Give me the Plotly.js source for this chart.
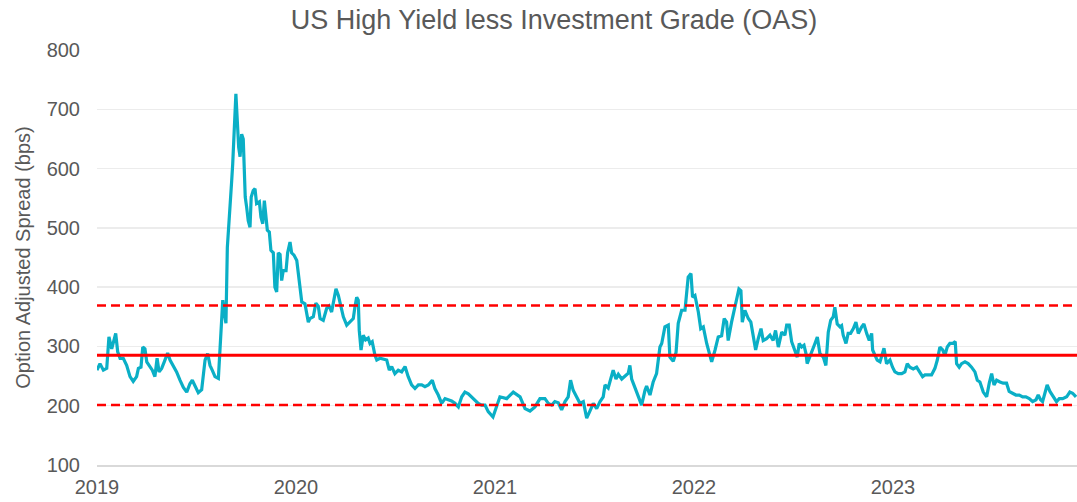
<!DOCTYPE html>
<html>
<head>
<meta charset="utf-8">
<script src="https://cdn.plot.ly/plotly-3.0.1.min.js"></script>
<style>html,body{margin:0;padding:0;background:#fff;}#chart{width:1077px;height:502px;}</style>
</head>
<body>
<div id="chart"></div>
<script>
// Decimal-year positions
const years = [
2019.000,2019.015,2019.032,2019.049,2019.060,2019.074,2019.094,2019.104,2019.116,2019.132,2019.149,2019.166,2019.182,2019.199,2019.208,2019.221,2019.230,2019.241,2019.250,2019.266,2019.278,2019.291,2019.302,2019.312,2019.325,2019.338,2019.355,2019.367,2019.383,2019.400,2019.417,2019.434,2019.451,2019.467,2019.479,2019.492,2019.509,2019.526,2019.543,2019.556,2019.568,2019.579,2019.593,2019.610,2019.618,2019.627,2019.632,2019.638,2019.648,2019.655,2019.665,2019.677,2019.682,2019.688,2019.693,2019.698,2019.705,2019.712,2019.719,2019.727,2019.735,2019.740,2019.745,2019.752,2019.760,2019.769,2019.775,2019.785,2019.794,2019.802,2019.816,2019.824,2019.833,2019.841,2019.849,2019.856,2019.866,2019.874,2019.886,2019.894,2019.903,2019.911,2019.920,2019.928,2019.936,2019.950,2019.958,2019.970,2019.978,2019.990,
2020.004,2020.012,2020.020,2020.029,2020.045,2020.062,2020.070,2020.087,2020.100,2020.112,2020.121,2020.137,2020.154,2020.167,2020.179,2020.187,2020.201,2020.213,2020.226,2020.238,2020.255,2020.263,2020.288,2020.296,2020.305,2020.313,2020.318,2020.327,2020.338,2020.350,2020.363,2020.372,2020.383,2020.397,2020.406,2020.422,2020.439,2020.456,2020.469,2020.481,2020.497,2020.514,2020.531,2020.548,2020.564,2020.581,2020.598,2020.615,2020.632,2020.648,2020.665,2020.685,2020.698,2020.715,2020.732,2020.749,2020.765,2020.782,2020.799,2020.816,2020.833,2020.849,2020.866,2020.883,2020.899,2020.916,2020.933,2020.950,2020.966,2020.983,2020.990,
2021.025,2021.059,2021.092,2021.126,2021.151,2021.176,2021.201,2021.226,2021.251,2021.268,2021.285,2021.301,2021.318,2021.335,2021.352,2021.368,2021.380,2021.393,2021.410,2021.427,2021.444,2021.461,2021.477,2021.494,2021.511,2021.528,2021.544,2021.553,2021.569,2021.581,2021.594,2021.608,2021.620,2021.637,2021.653,2021.670,2021.678,2021.687,2021.704,2021.720,2021.737,2021.754,2021.762,2021.779,2021.795,2021.812,2021.829,2021.838,2021.854,2021.871,2021.879,2021.896,2021.910,2021.921,2021.938,2021.955,2021.971,2021.985,2021.993,
2022.005,2022.022,2022.034,2022.047,2022.064,2022.089,2022.106,2022.122,2022.139,2022.152,2022.164,2022.172,2022.189,2022.202,2022.215,2022.226,2022.236,2022.243,2022.256,2022.273,2022.286,2022.298,2022.310,2022.323,2022.337,2022.348,2022.365,2022.382,2022.398,2022.410,2022.424,2022.441,2022.457,2022.466,2022.479,2022.491,2022.508,2022.519,2022.529,2022.541,2022.553,2022.563,2022.569,2022.583,2022.596,2022.608,2022.620,2022.633,2022.650,2022.663,2022.675,2022.687,2022.700,2022.708,2022.720,2022.734,2022.742,2022.750,2022.764,2022.775,2022.787,2022.801,2022.814,2022.826,2022.843,2022.854,2022.868,2022.881,2022.893,2022.898,2022.910,2022.921,2022.935,2022.948,2022.955,2022.968,2022.985,2022.998,
2023.010,2023.027,2023.044,2023.060,2023.072,2023.085,2023.102,2023.119,2023.132,2023.149,2023.161,2023.177,2023.194,2023.211,2023.223,2023.236,2023.250,2023.261,2023.273,2023.286,2023.300,2023.313,2023.320,2023.333,2023.345,2023.362,2023.378,2023.395,2023.412,2023.424,2023.437,2023.454,2023.471,2023.484,2023.496,2023.508,2023.521,2023.538,2023.554,2023.571,2023.584,2023.601,2023.618,2023.635,2023.652,2023.668,2023.685,2023.702,2023.719,2023.730,2023.742,2023.752,2023.764,2023.775,2023.789,2023.805,2023.822,2023.836,2023.853,2023.873,2023.889,2023.903,2023.920
];

// Option adjusted spread (bps), HY less IG
const oasSpread = [
260,271,260,263,316,296,322,291,280,280,268,249,241,249,263,265,299,296,274,265,260,249,280,257,263,274,289,277,268,257,243,231,223,237,243,233,222,227,277,288,268,260,249,246,288,344,378,361,339,467,512,580,608,647,692,726,681,636,620,658,650,613,552,535,512,501,552,563,566,541,544,518,507,546,524,496,493,462,458,400,392,458,455,411,428,428,458,476,458,454,
445,423,395,375,372,341,347,350,373,368,347,344,364,368,358,372,397,386,368,350,336,339,347,366,383,378,327,294,319,311,314,305,308,285,277,280,278,277,260,266,254,260,257,266,249,235,229,235,235,232,235,243,229,218,204,212,210,208,204,198,215,223,220,215,210,204,201,201,190,184,181,
215,212,223,215,195,191,198,212,212,204,201,207,205,193,207,215,243,226,215,204,207,179,191,204,195,207,215,235,230,245,260,245,253,245,250,255,268,245,230,215,201,226,233,218,240,254,299,305,333,336,282,275,290,339,361,361,417,423,383,
386,358,330,333,305,274,294,316,318,347,341,310,341,361,375,397,394,341,361,347,341,316,294,313,330,310,313,319,310,327,299,324,319,336,336,308,291,282,305,299,302,288,271,282,294,305,316,288,282,268,324,344,350,366,338,333,335,319,305,322,322,330,341,322,333,338,322,310,322,294,285,277,274,291,297,271,277,265,
257,254,254,257,271,265,262,265,257,249,252,252,252,263,277,299,294,285,299,305,305,308,271,265,271,274,271,265,257,243,240,223,215,238,254,235,243,240,238,238,224,221,218,218,215,215,212,207,210,218,210,207,221,235,224,215,207,212,212,215,223,221,215
];

// Reference levels (bps): mean and +/- 1 standard deviation bands
const meanLevel = 285;
const bandLevels = [369, 201];

const tickYears = [2019, 2020, 2021, 2022, 2023];
const tickLabels = ['2019', '2020', '2021', '2022', '2023'];
const xStart = 2019.0;
const xEnd = 2023.925;

const titleText = 'US High Yield less Investment Grade (OAS)';
const yTitleText = 'Option Adjusted Spread (bps)';

const textColor = '#595959';
const fontFam = 'Liberation Sans, Arial, sans-serif';

const traces = [{
  x: years,
  y: oasSpread,
  type: 'scatter',
  mode: 'lines',
  line: {color: '#0AAFC6', width: 3.2},
  hoverinfo: 'x+y',
  showlegend: false
}];

const shapes = [{
  type: 'line', xref: 'paper', x0: 0, x1: 1, yref: 'y', y0: meanLevel, y1: meanLevel,
  line: {color: '#FF0000', width: 3}, layer: 'above'
}].concat(bandLevels.map(v => ({
  type: 'line', xref: 'paper', x0: 0, x1: 1, yref: 'y', y0: v, y1: v,
  line: {color: '#FF0000', width: 2.5, dash: '9px,5px'}, layer: 'above'
})));

const layout = {
  width: 1077,
  height: 502,
  margin: {l: 97, r: 0, t: 50, b: 37},
  paper_bgcolor: '#ffffff',
  plot_bgcolor: '#ffffff',
  font: {family: fontFam, color: textColor, size: 20},
  title: {
    text: titleText,
    font: {family: fontFam, color: textColor, size: 27},
    x: 0.5144, xref: 'container', xanchor: 'center',
    y: 0.962, yref: 'container', yanchor: 'middle'
  },
  xaxis: {
    type: 'linear',
    range: [xStart, xEnd],
    tickvals: tickYears,
    ticktext: tickLabels,
    showgrid: false,
    zeroline: false,
    showline: true,
    linecolor: '#D9D9D9',
    linewidth: 1.5,
    ticks: '',
    ticklabelstandoff: 3,
    tickfont: {size: 20, color: textColor}
  },
  yaxis: {
    range: [100, 800],
    dtick: 100,
    tick0: 100,
    showgrid: true,
    gridcolor: '#ECECEC',
    gridwidth: 1.5,
    zeroline: false,
    showline: false,
    ticks: '',
    ticklabelstandoff: 16,
    tickfont: {size: 20, color: textColor},
    title: {text: yTitleText, font: {size: 20, color: textColor}, standoff: 10}
  },
  shapes: shapes
};

Plotly.newPlot('chart', traces, layout, {displayModeBar: false, staticPlot: true});
</script>
</body>
</html>
